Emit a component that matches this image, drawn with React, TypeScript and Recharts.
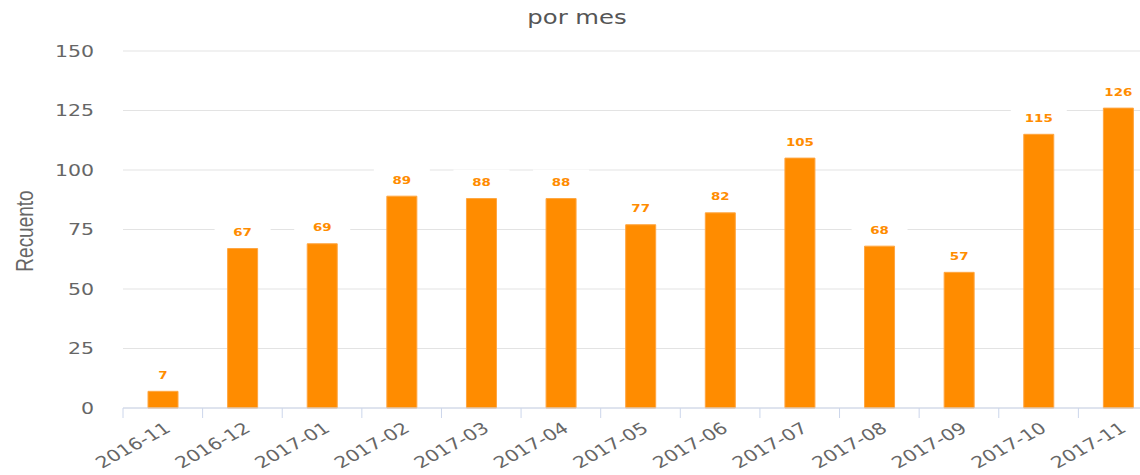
import { BarChart, Bar, XAxis, YAxis, CartesianGrid, LabelList } from 'recharts';

const months = [
  '2016-11', '2016-12', '2017-01', '2017-02', '2017-03', '2017-04', '2017-05',
  '2017-06', '2017-07', '2017-08', '2017-09', '2017-10', '2017-11',
];
const counts = [7, 67, 69, 89, 88, 88, 77, 82, 105, 68, 57, 115, 126];
const yTicks = [0, 25, 50, 75, 100, 125, 150];

const chartData = months.map((m, i) => ({ month: m, count: counts[i] }));

// the reference looks horizontally stretched, so text gets a little scaleX
const SX = 1.28;
const FONT = '"DejaVu Sans", Verdana, sans-serif';
const BAND = 1035 / months.length;

function XTick(props: any) {
  const { x, y, payload } = props;
  return (
    <g>
      <line x1={x - BAND / 2} y1={y - 8} x2={x - BAND / 2} y2={y + 2} stroke="#ccd6eb" strokeWidth={1} />
      <text
        transform={`translate(${x + 5},${y + 10}) scale(${SX},1) rotate(-35)`}
        textAnchor="end"
        dominantBaseline="central"
        fontFamily={FONT}
        fontSize={16}
        fill="#666"
      >
        {payload.value}
      </text>
    </g>
  );
}

function YTick(props: any) {
  const { x, y, payload } = props;
  return (
    <text
      transform={`translate(${x},${y}) scale(${SX},1)`}
      textAnchor="end"
      dominantBaseline="central"
      fontFamily={FONT}
      fontSize={16}
      fill="#666"
    >
      {payload.value}
    </text>
  );
}

function ValueLabel(props: any) {
  const { x, y, width, value } = props;
  const cx = x + width / 2;
  const cy = y - 16;
  return (
    <g>
      <rect x={cx - 28} y={cy - 13} width={56} height={26} fill="#fff" />
      <text
        transform={`translate(${cx},${cy}) scale(${SX},1)`}
        textAnchor="middle"
        dominantBaseline="central"
        fontFamily={FONT}
        fontSize={10.5}
        fontWeight="bold"
        fill="#ff8c00"
      >
        {value}
      </text>
    </g>
  );
}

function AxisTitle() {
  return (
    <text
      transform={`translate(25,231) scale(${SX},1) rotate(-90)`}
      textAnchor="middle"
      dominantBaseline="central"
      fontFamily='"Liberation Sans Narrow", "Liberation Sans", Arial, sans-serif'
      fontSize={19}
      fill="#666"
    >
      Recuento
    </text>
  );
}

export default function App() {
  return (
    <div style={{ position: 'absolute', left: 0, top: 0, width: 1140, height: 475, overflow: 'hidden', background: '#fff' }}>
      <div
        style={{
          position: 'absolute',
          top: 6,
          left: 577,
          transform: `translateX(-50%) scaleX(${SX})`,
          fontFamily: FONT,
          fontSize: 19,
          color: '#555',
          whiteSpace: 'nowrap',
        }}
      >
        por mes
      </div>
      <div style={{ position: 'absolute', left: 0, top: 0 }}>
        <BarChart
          width={1170}
          height={475}
          data={chartData}
          margin={{ top: 51, right: 12, bottom: 0, left: 0 }}
          barCategoryGap={0}
        >
          <CartesianGrid vertical={false} stroke="#e3e3e3" />
          <XAxis
            dataKey="month"
            interval={0}
            tickLine={false}
            axisLine={{ stroke: '#ccd6eb' }}
            tick={<XTick />}
            height={67}
          />
          <YAxis
            width={123}
            domain={[0, 150]}
            ticks={yTicks}
            axisLine={false}
            tickLine={false}
            tickMargin={23}
            tick={<YTick />}
            label={<AxisTitle />}
          />
          <Bar dataKey="count" fill="#ff8c00" stroke="#ffa640" strokeWidth={1} barSize={30} isAnimationActive={false}>
            <LabelList dataKey="count" content={<ValueLabel />} />
          </Bar>
        </BarChart>
      </div>
    </div>
  );
}
